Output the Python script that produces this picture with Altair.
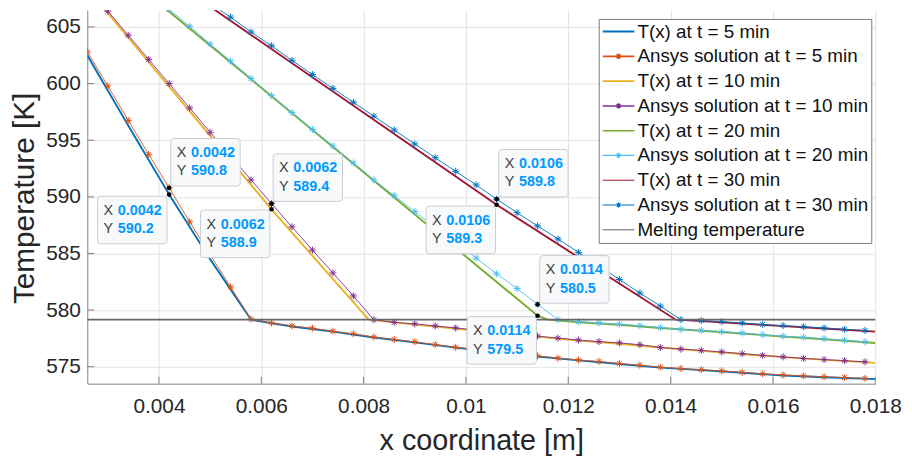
import altair as alt
import pandas as pd

FONT = "Liberation Sans"

# ---------------- data ----------------
X_ANSYS = [0.0026, 0.0030, 0.0034, 0.0038, 0.0042, 0.0046, 0.0050, 0.0054, 0.0058, 0.0062,
           0.0066, 0.0070, 0.0074, 0.0078, 0.0082, 0.0086, 0.0090, 0.0094, 0.0098, 0.0102,
           0.0106, 0.0110, 0.0114, 0.0118, 0.0122, 0.0126, 0.0130, 0.0134, 0.0138, 0.0142,
           0.0146, 0.0150, 0.0154, 0.0158, 0.0162, 0.0166, 0.0170, 0.0174, 0.0178]

ANSYS_5 = [602.8, 599.8, 596.75, 593.75, 590.8, 587.8, 584.9, 582.05, 579.2, 578.86,
           578.6, 578.4, 578.14, 577.9, 577.62, 577.4, 577.2, 576.95, 576.72, 576.52,
           576.32, 576.12, 575.95, 575.75, 575.6, 575.46, 575.28, 575.13, 574.96, 574.84,
           574.74, 574.63, 574.5, 574.37, 574.27, 574.18, 574.11, 574.04, 573.97]

ANSYS_10 = [608.5, 606.4, 604.27, 602.14, 600.0, 597.85, 595.7, 593.6, 591.5, 589.4,
            587.35, 585.3, 583.28, 581.25, 579.15, 578.92, 578.78, 578.6, 578.42, 578.24,
            578.05, 577.87, 577.7, 577.52, 577.35, 577.22, 577.1, 576.94, 576.7, 576.55,
            576.44, 576.3, 576.15, 576.0, 575.86, 575.73, 575.63, 575.53, 575.43]

ANSYS_20 = [None, None, None, 608.05, 606.55, 605.06, 603.5, 602.0, 600.45, 598.94,
            597.45, 595.95, 594.5, 593.0, 591.5, 590.1, 588.7, 587.3, 585.95, 584.6,
            583.2, 581.9, 580.5, 579.15, 578.98, 578.86, 578.75, 578.62, 578.45, 578.3,
            578.2, 578.1, 577.97, 577.82, 577.7, 577.6, 577.47, 577.33, 577.2]

ANSYS_30 = [None, None, None, None, None, None, 607.1, 605.87, 604.56, 603.34,
            602.05, 600.8, 599.58, 598.35, 597.12, 595.9, 594.67, 593.45, 592.25, 591.05,
            589.8, 588.6, 587.43, 586.27, 585.1, 583.9, 582.7, 581.5, 580.35, 579.15,
            579.07, 578.98, 578.86, 578.73, 578.63, 578.53, 578.42, 578.3, 578.2]

T5_X = [0.0026, 0.0034, 0.0042, 0.0050, 0.0058, 0.0066, 0.0074, 0.0082, 0.0090, 0.0098,
        0.0106, 0.0114, 0.0122, 0.0130, 0.0138, 0.0146, 0.0154, 0.0162, 0.0170, 0.0180]
T5_T = [602.5, 596.3, 590.2, 584.5, 579.15, 578.55, 578.1, 577.58, 577.15, 576.68,
        576.28, 575.9, 575.56, 575.24, 574.92, 574.7, 574.46, 574.22, 574.07, 573.9]

T10_X = [0.0026, 0.0062, 0.0081, 0.0090, 0.0098, 0.0106, 0.0114, 0.0122, 0.0130, 0.0138,
         0.0146, 0.0154, 0.0162, 0.0170, 0.0180]
T10_T = [608.4, 588.9, 579.15, 578.72, 578.36, 578.0, 577.65, 577.3, 577.03, 576.7,
         576.4, 576.12, 575.84, 575.6, 575.34]

T20_X = [0.0040, 0.0114, 0.0116, 0.0122, 0.0130, 0.0138, 0.0146, 0.0154, 0.0162, 0.0170, 0.0180]
T20_T = [607.1, 579.5, 579.15, 578.92, 578.7, 578.42, 578.17, 577.93, 577.66, 577.42, 577.09]

T30_X = [0.0050, 0.0106, 0.0141, 0.0146, 0.0154, 0.0162, 0.0170, 0.0180]
T30_T = [606.8, 589.3, 579.15, 579.02, 578.8, 578.58, 578.37, 578.1]

T_MELT = [579.15]

TIP_X = [0.0042, 0.0042, 0.0062, 0.0062, 0.0106, 0.0106, 0.0114, 0.0114]
TIP_T = [590.2, 590.8, 588.9, 589.4, 589.3, 589.8, 579.5, 580.5]
# label-box anchor (box centre) for each data tip
TIP_BOX_X = [0.00348, 0.00491, 0.00549, 0.00691, 0.0099, 0.01132, 0.0107, 0.01212]
TIP_BOX_T = [587.95, 593.05, 586.73, 591.7, 587.08, 592.08, 577.32, 582.71]

X_TICKS = [0.004, 0.006, 0.008, 0.01, 0.012, 0.014, 0.016, 0.018]
Y_TICKS = [575, 580, 585, 590, 595, 600, 605]

LEGEND_LABELS = ["T(x) at t = 5 min", "Ansys solution at t = 5 min",
                 "T(x) at t = 10 min", "Ansys solution at t = 10 min",
                 "T(x) at t = 20 min", "Ansys solution at t = 20 min",
                 "T(x) at t = 30 min", "Ansys solution at t = 30 min",
                 "Melting temperature"]

# ---------------- styles ----------------
C_BLUE, C_ORANGE, C_YELLOW, C_PURPLE = "#0072BD", "#D95319", "#EDB120", "#7E2F8E"
C_GREEN, C_LBLUE, C_RED, C_MELT = "#77AC30", "#4DBEEE", "#A2142F", "#666666"
LEG_COLORS = [C_BLUE, C_ORANGE, C_YELLOW, C_PURPLE, C_GREEN, C_LBLUE, C_RED, C_BLUE, "#4d4d4d"]
LW_T, LW_A = 1.9, 0.9
LEG_WIDTHS = [LW_T, LW_A, LW_T, LW_A, LW_T, LW_A, LW_T, LW_A, 1.1]

ASTER = "M-1,0L1,0M0,-1L0,1M-0.7,-0.7L0.7,0.7M-0.7,0.7L0.7,-0.7"
SYM_LINE = "M-1,0L1,0"
SYM_AST = ("M-1,0L1,0M-0.17,0L0.17,0M0,-0.17L0,0.17"
           "M-0.12,-0.12L0.12,0.12M-0.12,0.12L0.12,-0.12")
LEG_SHAPES = [SYM_LINE, SYM_AST] * 4 + [SYM_LINE]
BOX = ("M-0.91,-0.686L0.91,-0.686Q1,-0.686 1,-0.6L1,0.6Q1,0.686 0.91,0.686"
       "L-0.91,0.686Q-1,0.686 -1,0.6L-1,-0.6Q-1,-0.686 -0.91,-0.686Z")

W, H = 795, 377
AX_COLOR = "#808080"
TXT = "#262626"

XS = alt.Scale(domain=[0.0026, 0.018], nice=False, zero=False)
YS = alt.Scale(domain=[573.5, 606.5], nice=False, zero=False)

XAXIS = alt.Axis(values=X_TICKS, format="~g", title="x coordinate [m]",
                 titleFont=FONT, titleFontSize=29, titleFontWeight="normal", titleColor=TXT,
                 titleY=57, titleBaseline="middle", titleAlign="center",
                 labelFont=FONT, labelFontSize=21, labelColor=TXT, labelPadding=12,
                 labelFlush=False, labelOverlap=False, tickSize=0,
                 domainColor=AX_COLOR, grid=True, gridColor="#e4e4e4")
YAXIS = alt.Axis(values=Y_TICKS, title="Temperature [K]",
                 titleFont=FONT, titleFontSize=30, titleFontWeight="normal", titleColor=TXT,
                 titleX=-63, titleY=H / 2 + 1, titleBaseline="middle", titleAlign="center",
                 titleAngle=270,
                 labelFont=FONT, labelFontSize=21, labelColor=TXT, labelPadding=7,
                 labelFlush=False, labelOverlap=False, tickSize=0,
                 domainColor=AX_COLOR, grid=True, gridColor="#e4e4e4")


def X(f):
    return alt.X(f, type="quantitative", scale=XS, axis=XAXIS)


def Y(f):
    return alt.Y(f, type="quantitative", scale=YS, axis=YAXIS)


def df_xy(xs, ts):
    d = pd.DataFrame({"x": xs, "T": ts})
    return d.dropna()


layers = []

# inward ticks
layers.append(alt.Chart(pd.DataFrame({"v": X_TICKS})).mark_rule(color=AX_COLOR, strokeWidth=1)
              .encode(x=X("v"), y=alt.value(H), y2=alt.value(H - 7)))
layers.append(alt.Chart(pd.DataFrame({"v": Y_TICKS})).mark_rule(color=AX_COLOR, strokeWidth=1)
              .encode(y=Y("v"), x=alt.value(0), x2=alt.value(7)))

series = [
    (T5_X, T5_T, C_BLUE, ANSYS_5, C_ORANGE),
    (T10_X, T10_T, C_YELLOW, ANSYS_10, C_PURPLE),
    (T20_X, T20_T, C_GREEN, ANSYS_20, C_LBLUE),
    (T30_X, T30_T, C_RED, ANSYS_30, C_BLUE),
]
for tx, tt, tc, av, ac in series:
    layers.append(alt.Chart(df_xy(tx, tt)).mark_line(color=tc, strokeWidth=LW_T, clip=True)
                  .encode(x=X("x"), y=Y("T")))
    da = df_xy(X_ANSYS, av)
    layers.append(alt.Chart(da).mark_line(color=ac, strokeWidth=LW_A, clip=True)
                  .encode(x=X("x"), y=Y("T")))
    layers.append(alt.Chart(da).mark_point(shape=ASTER, size=50, filled=False, color=ac,
                                           strokeWidth=1, opacity=1, clip=True)
                  .encode(x=X("x"), y=Y("T")))

# melting temperature
layers.append(alt.Chart(pd.DataFrame({"T": T_MELT})).mark_rule(color=C_MELT, strokeWidth=1.8)
              .encode(y=Y("T")))

# data tips
tips = pd.DataFrame({
    "x": TIP_X, "T": TIP_T, "bx": TIP_BOX_X, "bT": TIP_BOX_T,
    "xl": [f"{v:g}" for v in TIP_X], "yl": [f"{v:.1f}" for v in TIP_T],
})
tipbase = alt.Chart(tips)
layers.append(tipbase.mark_point(shape=BOX, size=4900, filled=True, fill="#f8f9fb",
                                 stroke="#c9ccd2", strokeWidth=1, opacity=1)
              .encode(x=X("bx"), y=Y("bT")))
layers.append(tipbase.mark_point(shape="circle", size=22, filled=True, color="black", opacity=1)
              .encode(x=X("x"), y=Y("T")))
for dy, lab, field in [(-9.3, "X", "xl"), (9.3, "Y", "yl")]:
    layers.append(tipbase.mark_text(text=lab, font=FONT, fontSize=14.5, color="#404040",
                                    align="left", baseline="middle", dx=-29, dy=dy)
                  .encode(x=X("bx"), y=Y("bT")))
    layers.append(tipbase.mark_text(font=FONT, fontSize=14.5, fontWeight="bold", color="#0099ff",
                                    align="left", baseline="middle", dx=-14.6, dy=dy)
                  .encode(x=X("bx"), y=Y("bT"), text=alt.Text(f"{field}:N")))

# legend (drawn by a clipped, invisible dummy layer)
LEG = alt.Legend(title=None, orient="none", legendX=516, legendY=9, direction="vertical",
                 fillColor="white", strokeColor="#7a7a7a", padding=3,
                 labelFont=FONT, labelFontSize=19, labelColor="#111111", labelLimit=500,
                 symbolSize=1024, labelOffset=2, rowPadding=5, clipHeight=19.5)
leg_df = pd.DataFrame({"series": LEGEND_LABELS})
layers.append(alt.Chart(leg_df).mark_point(filled=False, opacity=1, clip=True)
              .encode(x=alt.value(-200), y=alt.value(-200),
                      color=alt.Color("series:N", scale=alt.Scale(domain=LEGEND_LABELS, range=LEG_COLORS), legend=LEG),
                      shape=alt.Shape("series:N", scale=alt.Scale(domain=LEGEND_LABELS, range=LEG_SHAPES), legend=LEG),
                      strokeWidth=alt.StrokeWidth("series:N", scale=alt.Scale(domain=LEGEND_LABELS, range=LEG_WIDTHS), legend=LEG)))

chart = alt.layer(*layers).properties(
    width=W, height=H,
    autosize=alt.AutoSizeParams(type="none"),
    padding={"left": 80, "top": 0, "right": 29, "bottom": 77},
    background="white",
).configure_view(stroke=None)

chart.save("out.html", embed_options={"renderer": "svg", "actions": False})
